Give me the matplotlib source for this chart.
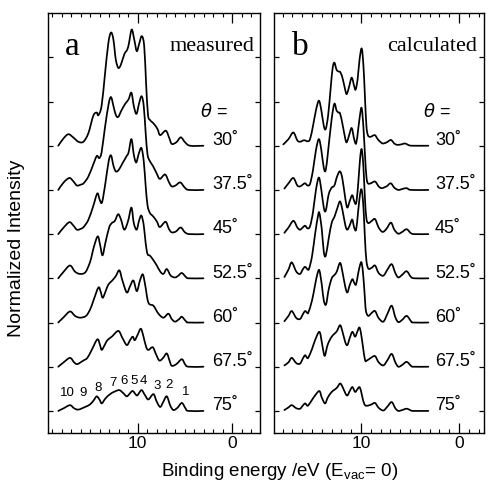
import matplotlib
matplotlib.use("Agg")
import matplotlib.pyplot as plt
from matplotlib.path import Path
from matplotlib.patches import PathPatch
from matplotlib.ticker import MultipleLocator

# Emission angles, top to bottom; each spectrum is shifted up by one unit per row
angles = ["30", "37.5", "45", "52.5", "60", "67.5", "75"]
offsets = [6, 5, 4, 3, 2, 1, 0]

# Measured spectra: (binding energy / eV, normalized intensity)
MEAS_30 = [(18.37, 0), (17.8, 0.17), (17.3, 0.26), (16.8, 0.19), (16.25, 0.09), (15.72, 0.09),
           (15.2, 0.28), (14.67, 0.68), (14.31, 0.75), (14.14, 0.69), (13.8, 0.9), (13.45, 1.6),
           (13.08, 2.33), (12.8, 2.56), (12.55, 2.4), (12.3, 1.95), (12.03, 1.76), (11.75, 1.84),
           (11.4, 2.07), (11.08, 2.18), (10.9, 2.33), (10.62, 2.63), (10.35, 2.4), (10.09, 2.14),
           (9.85, 2.29), (9.56, 2.48), (9.3, 2.25), (9.1, 1.4), (8.9, 0.7), (8.68, 0.58),
           (8.3, 0.5), (7.9, 0.38), (7.62, 0.24), (7.02, 0.34), (6.65, 0.17), (6.39, 0.04),
           (5.9, 0.08), (5.44, 0.19), (5.0, 0.08), (4.46, 0), (3.05, 0)]
MEAS_37 = [(18.37, 0), (17.8, 0.17), (17.2, 0.27), (16.8, 0.2), (16.4, 0.1), (16.0, 0.12),
           (15.7, 0.15), (15.2, 0.3), (14.67, 0.58), (14.3, 0.77), (14.05, 0.72), (13.8, 0.85),
           (13.45, 1.4), (13.05, 1.95), (12.8, 2.1), (12.55, 1.9), (12.3, 1.7), (12.05, 1.65),
           (11.7, 1.8), (11.3, 1.95), (10.95, 2.05), (10.65, 2.2), (10.4, 1.9), (10.12, 1.72),
           (9.85, 1.95), (9.58, 2.12), (9.35, 1.9), (9.15, 1.3), (8.95, 0.8), (8.7, 0.65),
           (8.4, 0.55), (8.0, 0.38), (7.65, 0.25), (7.1, 0.35), (6.7, 0.18), (6.4, 0.08),
           (6.0, 0.1), (5.5, 0.17), (5.05, 0.06), (4.6, 0), (3.05, 0)]
MEAS_45 = [(18.37, 0), (17.8, 0.15), (17.2, 0.27), (16.8, 0.2), (16.4, 0.1), (16.0, 0.12),
           (15.7, 0.16), (15.2, 0.32), (14.7, 0.62), (14.25, 0.92), (14.0, 0.78), (13.75, 0.72),
           (13.4, 1.15), (13.05, 1.65), (12.8, 1.78), (12.55, 1.55), (12.3, 1.42), (12.0, 1.45),
           (11.6, 1.6), (11.2, 1.75), (10.95, 1.85), (10.65, 2.15), (10.4, 1.8), (10.15, 1.62),
           (9.9, 1.8), (9.6, 1.95), (9.35, 1.65), (9.15, 1.1), (8.95, 0.65), (8.7, 0.48),
           (8.35, 0.4), (7.95, 0.28), (7.65, 0.16), (7.05, 0.28), (6.7, 0.12), (6.4, 0.04),
           (5.95, 0.06), (5.45, 0.15), (5.0, 0.04), (4.5, 0), (3.05, 0)]
MEAS_52 = [(18.37, 0), (17.8, 0.15), (17.13, 0.29), (16.6, 0.15), (16.07, 0.1), (15.5, 0.14),
           (15.0, 0.38), (14.6, 0.72), (14.2, 0.95), (13.95, 0.75), (13.7, 0.52), (13.4, 0.8),
           (13.0, 1.15), (12.72, 1.25), (12.4, 1.3), (12.05, 1.45), (11.75, 1.33), (11.4, 1.1),
           (11.0, 1.3), (10.65, 1.6), (10.4, 1.25), (10.1, 1.1), (9.85, 1.3), (9.6, 1.42),
           (9.35, 1.2), (9.15, 0.8), (8.95, 0.55), (8.68, 0.51), (8.3, 0.4), (7.97, 0.29),
           (7.6, 0.15), (7.27, 0.1), (6.92, 0.21), (6.5, 0.06), (6.04, 0.02), (5.7, 0.06),
           (5.33, 0.12), (4.9, 0.03), (4.6, 0), (3.05, 0)]
MEAS_60 = [(18.37, 0), (17.8, 0.12), (17.13, 0.25), (16.6, 0.15), (16.07, 0.11), (15.44, 0.15),
           (15.0, 0.3), (14.67, 0.49), (14.14, 0.79), (13.9, 0.7), (13.68, 0.56), (13.35, 0.72),
           (13.08, 0.86), (12.72, 0.94), (12.3, 1.05), (11.92, 1.18), (11.6, 0.95), (11.14, 0.68),
           (10.8, 0.82), (10.44, 0.95), (10.08, 0.71), (9.75, 0.95), (9.45, 1.09), (9.2, 0.85),
           (8.86, 0.45), (8.33, 0.38), (7.8, 0.2), (7.27, 0.11), (6.75, 0.2), (6.4, 0.08),
           (6.04, 0.02), (5.6, 0.08), (5.33, 0.13), (4.9, 0.03), (4.64, 0), (3.05, 0)]
MEAS_67 = [(18.37, 0), (17.8, 0.1), (17.13, 0.2), (16.7, 0.1), (16.36, 0.06), (15.72, 0.14),
           (15.3, 0.2), (14.84, 0.38), (14.24, 0.62), (13.95, 0.48), (13.78, 0.38), (13.45, 0.5),
           (13.19, 0.6), (12.72, 0.68), (12.03, 0.81), (11.6, 0.65), (11.14, 0.49), (10.8, 0.6),
           (10.51, 0.68), (10.3, 0.6), (10.0, 0.72), (9.66, 0.86), (9.4, 0.7), (9.1, 0.45),
           (8.86, 0.38), (8.4, 0.44), (8.05, 0.28), (7.7, 0.14), (7.3, 0.2), (6.92, 0.3),
           (6.6, 0.12), (6.39, 0.02), (5.9, 0.06), (5.33, 0.17), (5.0, 0.06), (4.64, 0), (3.05, 0)]
MEAS_75 = [(18.37, 0), (17.8, 0.06), (17.13, 0.13), (16.7, 0.06), (16.25, 0.03), (15.54, 0.09),
           (15.0, 0.15), (14.6, 0.25), (14.31, 0.33), (14.0, 0.25), (13.78, 0.17), (13.4, 0.28),
           (12.9, 0.38), (12.4, 0.44), (11.92, 0.47), (11.5, 0.4), (11.14, 0.33), (10.8, 0.4),
           (10.51, 0.45), (10.08, 0.35), (9.8, 0.42), (9.56, 0.47), (9.2, 0.35), (8.86, 0.26),
           (8.33, 0.38), (8.0, 0.22), (7.62, 0.09), (7.3, 0.2), (6.92, 0.33), (6.55, 0.12),
           (6.22, 0.02), (5.8, 0.07), (5.33, 0.18), (4.95, 0.06), (4.64, 0), (3.05, 0)]

# Calculated spectra
CALC_30 = [(17.93, 0.03), (17.4, 0.15), (16.91, 0.3), (16.5, 0.12), (16.22, 0.09), (15.9, 0.12),
           (15.71, 0.12), (15.45, 0.1), (15.2, 0.15), (14.9, 0.45), (14.6, 0.8), (14.3, 1.02),
           (14.05, 0.8), (13.8, 0.45), (13.6, 0.38), (13.35, 0.7), (13.1, 1.3), (12.9, 1.75),
           (12.72, 1.88), (12.5, 1.72), (12.3, 1.68), (12.1, 1.66), (11.85, 1.5), (11.6, 1.25),
           (11.45, 1.17), (11.2, 1.35), (10.95, 1.54), (10.7, 1.35), (10.55, 1.27), (10.35, 1.5),
           (10.15, 1.95), (9.93, 2.2), (9.75, 1.8), (9.6, 1.1), (9.45, 0.45), (9.3, 0.24),
           (9.05, 0.2), (8.6, 0.24), (8.3, 0.15), (8.0, 0.08), (7.75, 0.05), (7.35, 0.08),
           (6.95, 0.13), (6.6, 0.05), (6.3, 0.02), (5.9, 0.03), (5.5, 0.05), (5.1, 0.01),
           (4.7, 0), (3.13, 0)]
CALC_37 = [(17.82, 0.03), (17.4, 0.15), (16.91, 0.27), (16.5, 0.1), (16.22, 0.08), (15.95, 0.12),
           (15.71, 0.15), (15.45, 0.1), (15.2, 0.14), (14.9, 0.45), (14.6, 0.9), (14.3, 1.15),
           (14.05, 0.9), (13.8, 0.5), (13.6, 0.45), (13.35, 0.9), (13.0, 1.6), (12.72, 1.95),
           (12.5, 1.8), (12.3, 1.75), (12.14, 1.73), (11.9, 1.5), (11.6, 1.15), (11.45, 1.08),
           (11.2, 1.25), (10.95, 1.4), (10.7, 1.15), (10.5, 1.05), (10.3, 1.35), (10.1, 1.7),
           (9.93, 1.85), (9.75, 1.4), (9.6, 0.8), (9.45, 0.3), (9.3, 0.15), (9.0, 0.15),
           (8.57, 0.19), (8.2, 0.08), (7.89, 0.04), (7.4, 0.08), (6.97, 0.15), (6.6, 0.05),
           (6.19, 0), (5.8, 0.02), (5.34, 0.04), (4.9, 0), (3.13, 0)]
CALC_45 = [(17.82, 0.03), (17.4, 0.15), (16.9, 0.3), (16.5, 0.15), (16.22, 0.1), (15.95, 0.15),
           (15.71, 0.19), (15.45, 0.13), (15.2, 0.18), (14.9, 0.5), (14.6, 1.0), (14.3, 1.28),
           (14.05, 1.0), (13.8, 0.6), (13.6, 0.53), (13.3, 0.9), (13.0, 1.05), (12.72, 1.1),
           (12.45, 1.3), (12.15, 1.42), (11.9, 1.25), (11.6, 0.8), (11.4, 0.6), (11.15, 0.75),
           (10.9, 0.88), (10.7, 0.75), (10.5, 0.7), (10.3, 1.1), (10.1, 1.7), (9.93, 1.92),
           (9.75, 1.5), (9.6, 0.8), (9.45, 0.35), (9.25, 0.25), (8.9, 0.3), (8.57, 0.34),
           (8.2, 0.15), (7.8, 0.05), (7.4, 0.12), (6.95, 0.26), (6.6, 0.1), (6.2, 0.01),
           (5.8, 0.05), (5.34, 0.11), (4.9, 0.02), (4.5, 0), (3.13, 0)]
CALC_52 = [(17.82, 0.03), (17.4, 0.2), (17.07, 0.36), (16.6, 0.15), (16.22, 0.1), (15.95, 0.2),
           (15.71, 0.26), (15.45, 0.2), (15.3, 0.22), (15.0, 0.5), (14.69, 1.0), (14.4, 1.4),
           (14.25, 1.48), (14.0, 1.1), (13.8, 0.6), (13.6, 0.51), (13.3, 0.9), (13.0, 1.25),
           (12.7, 1.4), (12.4, 1.6), (12.14, 1.74), (11.9, 1.55), (11.6, 1.2), (11.4, 1.1),
           (11.15, 1.2), (10.9, 1.33), (10.7, 1.15), (10.5, 1.1), (10.3, 1.5), (10.1, 1.9),
           (9.93, 2.0), (9.75, 1.6), (9.6, 0.9), (9.45, 0.4), (9.25, 0.22), (8.9, 0.24),
           (8.57, 0.29), (8.2, 0.12), (7.72, 0.06), (7.3, 0.2), (6.87, 0.32), (6.5, 0.12),
           (6.19, 0.02), (5.8, 0.08), (5.34, 0.16), (4.9, 0.03), (4.5, 0), (3.13, 0)]
CALC_60 = [(17.82, 0.03), (17.4, 0.15), (17.07, 0.26), (16.6, 0.1), (16.22, 0.08), (15.95, 0.18),
           (15.71, 0.26), (15.5, 0.22), (15.37, 0.23), (15.0, 0.5), (14.69, 0.85), (14.45, 1.1),
           (14.25, 1.18), (14.0, 0.85), (13.8, 0.5), (13.57, 0.41), (13.3, 0.75), (12.99, 1.0),
           (12.7, 1.08), (12.48, 1.15), (12.14, 1.35), (11.9, 1.15), (11.6, 0.8), (11.39, 0.68),
           (11.15, 0.85), (10.88, 0.98), (10.7, 0.9), (10.51, 0.86), (10.3, 1.1), (10.1, 1.3),
           (9.93, 1.35), (9.75, 1.0), (9.59, 0.5), (9.49, 0.25), (9.25, 0.15), (8.9, 0.22),
           (8.57, 0.26), (8.2, 0.1), (7.72, 0.02), (7.3, 0.2), (6.87, 0.38), (6.5, 0.12),
           (6.19, 0.01), (5.8, 0.06), (5.34, 0.15), (4.9, 0.03), (4.66, 0), (3.13, 0)]
CALC_67 = [(17.82, 0.03), (17.4, 0.1), (17.07, 0.2), (16.6, 0.08), (16.22, 0.07), (15.95, 0.18),
           (15.71, 0.26), (15.5, 0.2), (15.37, 0.21), (15.0, 0.4), (14.69, 0.6), (14.25, 0.79),
           (14.0, 0.55), (13.8, 0.3), (13.67, 0.26), (13.4, 0.5), (12.99, 0.68), (12.48, 0.8),
           (12.14, 0.94), (11.9, 0.8), (11.6, 0.55), (11.39, 0.49), (11.15, 0.65), (10.88, 0.79),
           (10.61, 0.68), (10.4, 0.78), (10.17, 0.89), (10.0, 0.75), (9.8, 0.45), (9.59, 0.15),
           (9.4, 0.14), (9.0, 0.2), (8.57, 0.24), (8.2, 0.1), (7.72, 0.03), (7.3, 0.15),
           (6.87, 0.29), (6.5, 0.1), (6.19, 0), (5.8, 0.04), (5.34, 0.11), (4.9, 0.02),
           (4.66, 0), (3.13, 0)]
CALC_75 = [(17.82, 0.02), (17.4, 0.08), (17.07, 0.13), (16.6, 0.06), (16.22, 0.05), (15.95, 0.12),
           (15.71, 0.17), (15.5, 0.12), (15.37, 0.13), (15.0, 0.25), (14.69, 0.35), (14.25, 0.45),
           (14.0, 0.3), (13.67, 0.17), (13.4, 0.3), (12.99, 0.43), (12.48, 0.52), (12.14, 0.62),
           (11.9, 0.55), (11.6, 0.4), (11.39, 0.35), (11.15, 0.45), (10.88, 0.54), (10.61, 0.43),
           (10.4, 0.48), (10.17, 0.54), (10.0, 0.45), (9.8, 0.25), (9.59, 0.13), (9.3, 0.12),
           (8.9, 0.15), (8.57, 0.18), (8.2, 0.07), (7.72, 0.01), (7.3, 0.1), (6.87, 0.2),
           (6.5, 0.06), (6.19, 0), (5.8, 0.02), (5.34, 0.05), (4.9, 0.01), (4.66, 0), (3.13, 0)]

measured = [MEAS_30, MEAS_37, MEAS_45, MEAS_52, MEAS_60, MEAS_67, MEAS_75]
calculated = [CALC_30, CALC_37, CALC_45, CALC_52, CALC_60, CALC_67, CALC_75]

# Peak numbering above the 75 degree measured spectrum: (label, energy, height)
peak_labels = ["1", "2", "3", "4", "5", "6", "7", "8", "9", "10"]
peak_energy = [4.88, 6.67, 7.94, 9.42, 10.37, 11.43, 12.6, 14.17, 15.75, 17.44]
peak_height = [0.43, 0.59, 0.56, 0.68, 0.68, 0.68, 0.63, 0.52, 0.41, 0.41]

SANS = "Liberation Sans"
SERIF = "Liberation Serif"

fig = plt.figure(figsize=(4.88, 4.86), dpi=100)
ax_a = fig.add_axes([0.099, 0.109, 0.4348, 0.864])
ax_b = fig.add_axes([0.5615, 0.109, 0.4303, 0.864])


def style_axes(ax, xlim):
    ax.set_xlim(*xlim)
    ax.set_ylim(-0.5, 9.0)
    ax.xaxis.set_major_locator(MultipleLocator(10))
    ax.xaxis.set_minor_locator(MultipleLocator(1))
    ax.set_yticks(range(0, 9))
    ax.tick_params(axis="x", which="major", direction="in", length=7, width=0.9,
                   top=True, bottom=True, labelsize=12.5, pad=2.5)
    ax.tick_params(axis="x", which="minor", direction="in", length=3, width=0.8,
                   top=True, bottom=True)
    ax.tick_params(axis="y", which="major", direction="in", length=3.5, width=0.9,
                   left=True, right=True, labelleft=False)
    for lab in ax.get_xticklabels():
        lab.set_fontfamily(SANS)
    for sp in ax.spines.values():
        sp.set_linewidth(1.0)


def smooth_curve(ax, xs, ys):
    """Draw a smooth Catmull-Rom style Bezier path through the given points."""
    n = len(xs)
    verts = [(xs[0], ys[0])]
    codes = [Path.MOVETO]
    for i in range(n - 1):
        i0, i3 = max(i - 1, 0), min(i + 2, n - 1)
        c1 = (xs[i] + (xs[i + 1] - xs[i0]) / 6.0, ys[i] + (ys[i + 1] - ys[i0]) / 6.0)
        c2 = (xs[i + 1] - (xs[i3] - xs[i]) / 6.0, ys[i + 1] - (ys[i3] - ys[i]) / 6.0)
        verts += [c1, c2, (xs[i + 1], ys[i + 1])]
        codes += [Path.CURVE4] * 3
    ax.add_patch(PathPatch(Path(verts, codes), fill=False, edgecolor="black",
                           lw=1.25, joinstyle="round", capstyle="round"))


def draw_stack(ax, spectra, label_x, theta_x):
    for spec, off, ang in zip(spectra, offsets, angles):
        ex = [p[0] for p in spec]
        iy = [p[1] + off for p in spec]
        smooth_curve(ax, ex, iy)
        ax.text(label_x, off + 0.12, ang + "\u02da", fontsize=13, family=SANS,
                ha="left", va="center")
    ax.text(theta_x, 6.77, r"$\theta$ =", fontsize=13, family=SANS,
            ha="left", va="center")


style_axes(ax_a, (19.42, -2.97))
style_axes(ax_b, (18.88, -2.55))

draw_stack(ax_a, measured, 2.13, 3.4)
draw_stack(ax_b, calculated, 2.45, 3.7)

for lab, e, h in zip(peak_labels, peak_energy, peak_height):
    ax_a.text(e, h, lab, fontsize=9.5, family=SANS, ha="center", va="center")

ax_a.text(16.9, 8.25, "a", fontsize=24, family=SERIF, ha="center", va="center")
ax_a.text(-2.3, 8.25, "measured", fontsize=16, family=SERIF, ha="right", va="center")
ax_b.text(16.2, 8.25, "b", fontsize=24, family=SERIF, ha="center", va="center")
ax_b.text(-1.8, 8.25, "calculated", fontsize=16, family=SERIF, ha="right", va="center")

fig.text(0.033, 0.49, "Normalized Intensity", rotation=90, fontsize=14, family=SANS,
         ha="center", va="center")
fig.text(0.574, 0.029, r"Binding energy /eV (E$_{\mathregular{vac}}$= 0)", fontsize=13.5,
         family=SANS, ha="center", va="center")

fig.savefig("out.png", dpi=100, facecolor="white")
